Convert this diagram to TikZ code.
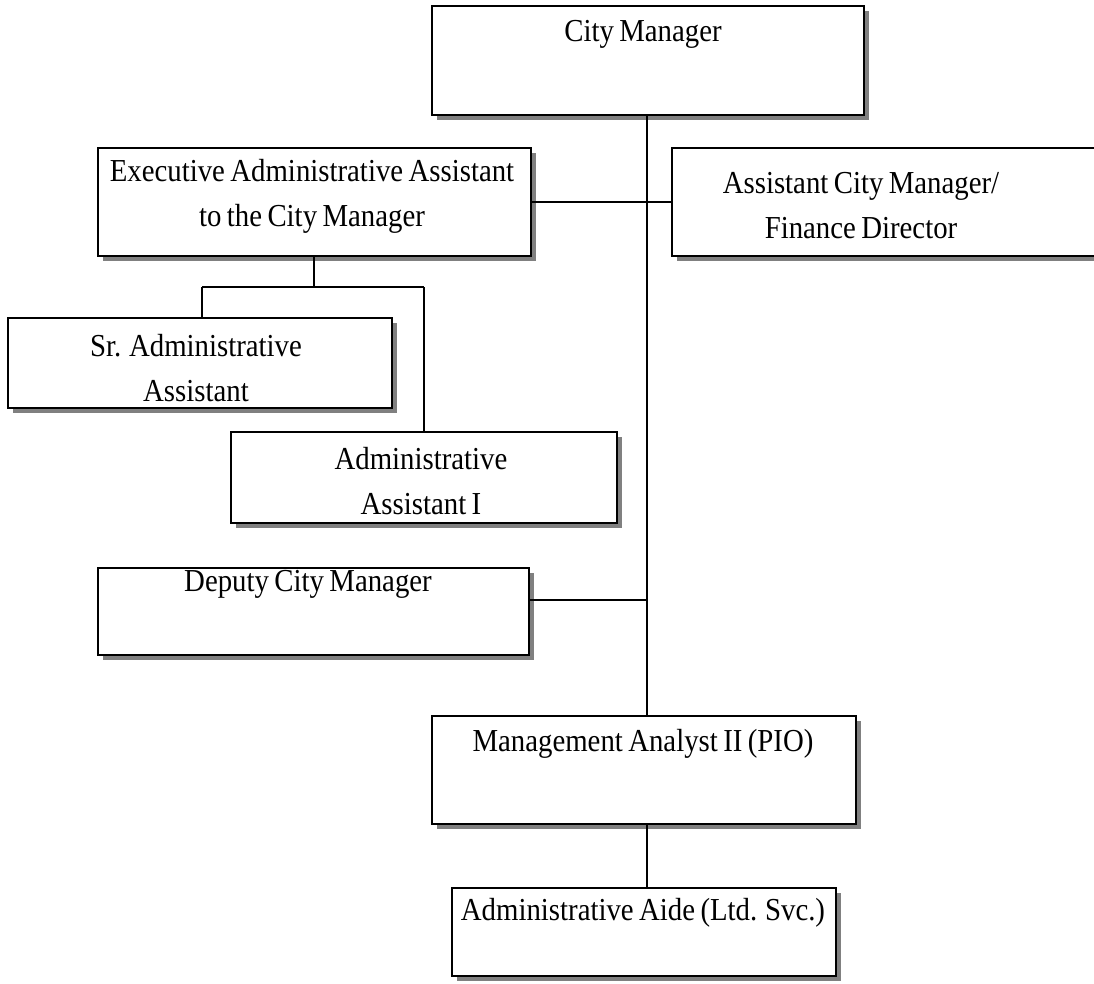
\documentclass[tikz,border=0pt]{standalone}
\usepackage{fontspec}
\setmainfont{Liberation Serif}[FakeStretch=0.9, WordSpace=0.75]
\usetikzlibrary{shadows}
\definecolor{shadowgray}{HTML}{808080}
\begin{document}
\begin{tikzpicture}[x=1pt,y=-1pt,
  orgbox/.style={draw=black, line width=2.2pt, fill=white, rectangle,
    inner sep=0pt,
    drop shadow={shadow xshift=5pt, shadow yshift=-5pt,
      fill=shadowgray, opacity=1}},
  label/.style={font=\fontsize{32}{45}\selectfont, align=center, inner sep=0pt},
  link/.style={draw=black, line width=2.2pt}]
\useasboundingbox (0,0) rectangle (1094,983);

% boxes
\node[orgbox, minimum width=432pt, minimum height=109pt] (cm)   at (648,60.5)  {};
\node[orgbox, minimum width=433pt, minimum height=108pt] (exec) at (314.5,202) {};
\node[orgbox, minimum width=458pt, minimum height=108pt] (acm)  at (901,202)   {};
\node[orgbox, minimum width=384pt, minimum height=90pt]  (sr)   at (200,363)   {};
\node[orgbox, minimum width=386pt, minimum height=91pt]  (aa)   at (424,477.5) {};
\node[orgbox, minimum width=431pt, minimum height=87pt]  (dep)  at (313.5,611.5) {};
\node[orgbox, minimum width=424pt, minimum height=108pt] (ma)   at (644,770)   {};
\node[orgbox, minimum width=384pt, minimum height=88pt]  (aide) at (644,932)   {};

% titles
\node[label] (cmT)   at (643,34)    {City Manager};
\node[label] (execT) at (312,196)   {Executive Administrative Assistant\\to the City Manager};
\node[label] (acmT)  at (861,206)   {Assistant City Manager/\\Finance Director};
\node[label] (srT)   at (196,368)   {Sr. Administrative\\Assistant};
\node[label] (aaT)   at (421,481)   {Administrative\\Assistant I};
\node[label] (depT)  at (308,584)   {Deputy City Manager};
\node[label] (maT)   at (643,744)   {Management Analyst II (PIO)};
\node[label] (aideT) at (643,913)   {Administrative Aide (Ltd. Svc.)};

% junction points
\coordinate (trunkTop) at (647,115);
\coordinate (depJoin) at (647,600);
\coordinate (split)   at (314,287);
\coordinate (splitL)  at (202,287);
\coordinate (splitR)  at (424,287);

% connectors
\draw[link] (trunkTop) -- (ma.north -| trunkTop);
\draw[link] (exec.east) -- (acm.west);
\draw[link] (dep.east |- depJoin) -- (depJoin);
\draw[link] (exec.south -| split) -- (split);
\draw[link] (splitL) -- (splitR);
\draw[link] (splitL) -- (sr.north -| splitL);
\draw[link] (splitR) -- (aa.north -| splitR);
\draw[link] (ma.south -| trunkTop) -- (aide.north -| trunkTop);
\end{tikzpicture}
\end{document}
